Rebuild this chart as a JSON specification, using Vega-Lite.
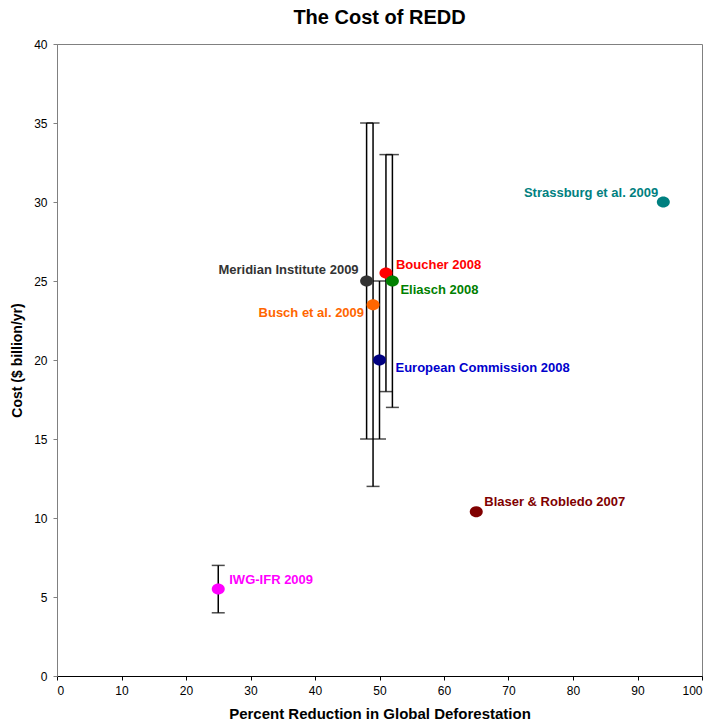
{
  "$schema": "https://vega.github.io/schema/vega-lite/v6.json",
  "autosize": "none",
  "width": 645,
  "height": 632,
  "padding": {"left": 57, "top": 44, "right": 12, "bottom": 45},
  "background": "white",
  "title": {"text": "The Cost of REDD", "font": "Liberation Sans", "fontSize": 20, "fontWeight": "bold", "color": "black", "anchor": "middle", "offset": 10},
  "config": {
    "view": {"stroke": "#808080", "strokeWidth": 1},
    "axis": {"grid": false, "labelFont": "Liberation Sans", "labelFontSize": 12, "labelColor": "black", "titleFont": "Liberation Sans", "titleFontSize": 15, "titleFontWeight": "bold", "titleColor": "black", "tickColor": "black", "tickSize": 4}
  },
  "data": {"values": [
    {"name": "Meridian Institute 2009", "x": 48, "y": 25, "lo": 15, "hi": 35},
    {"name": "Busch et al. 2009", "x": 49, "y": 23.5, "lo": 12, "hi": 35},
    {"name": "European Commission 2008", "x": 50, "y": 20, "lo": 15, "hi": 25},
    {"name": "Boucher 2008", "x": 51, "y": 25.5, "lo": 18, "hi": 33},
    {"name": "Eliasch 2008", "x": 52, "y": 25, "lo": 17, "hi": 33},
    {"name": "Strassburg et al. 2009", "x": 94, "y": 30, "lo": null, "hi": null},
    {"name": "Blaser & Robledo 2007", "x": 65, "y": 10.4, "lo": null, "hi": null},
    {"name": "IWG-IFR 2009", "x": 25, "y": 5.5, "lo": 4, "hi": 7}
  ]},
  "encoding": {
    "x": {"field": "x", "type": "quantitative", "scale": {"domain": [0, 100], "nice": false}, "axis": {"title": "Percent Reduction in Global Deforestation", "values": [0,10,20,30,40,50,60,70,80,90,100], "domainColor": "black", "labelPadding": 5, "titlePadding": 10}},
    "y": {"field": "y", "type": "quantitative", "scale": {"domain": [0, 40], "nice": false}, "axis": {"title": "Cost ($ billion/yr)", "titleFontSize": 14, "values": [0,5,10,15,20,25,30,35,40], "domainColor": "#808080", "tickColor": "#808080", "labelPadding": 6, "titlePadding": 9}}
  },
  "layer": [
    {
      "transform": [{"filter": "datum.lo != null"}],
      "mark": {"type": "rule", "color": "black", "strokeWidth": 1.5},
      "encoding": {"y": {"field": "lo", "type": "quantitative"}, "y2": {"field": "hi"}}
    },
    {
      "transform": [{"filter": "datum.lo != null"}],
      "mark": {"type": "tick", "orient": "horizontal", "color": "black", "size": 13, "thickness": 1.5},
      "encoding": {"y": {"field": "lo", "type": "quantitative"}}
    },
    {
      "transform": [{"filter": "datum.hi != null"}],
      "mark": {"type": "tick", "orient": "horizontal", "color": "black", "size": 13, "thickness": 1.5},
      "encoding": {"y": {"field": "hi", "type": "quantitative"}}
    },
    {
      "mark": {"type": "point", "filled": true, "size": 169, "opacity": 1, "shape": "M -1 0 A 1 0.85 0 1 0 1 0 A 1 0.85 0 1 0 -1 0 Z"},
      "encoding": {
        "color": {"field": "name", "type": "nominal", "legend": null, "scale": {
          "domain": ["Meridian Institute 2009", "Busch et al. 2009", "European Commission 2008", "Boucher 2008", "Eliasch 2008", "Strassburg et al. 2009", "Blaser & Robledo 2007", "IWG-IFR 2009"],
          "range": ["#333333", "#FF6600", "#000080", "#FF0000", "#008000", "#008080", "#800000", "#FF00FF"]}}
      }
    },
    {"transform": [{"filter": "datum.name == 'Meridian Institute 2009'"}], "mark": {"type": "text", "align": "right", "baseline": "middle", "dx": -8, "dy": -11, "font": "Liberation Sans", "fontWeight": "bold", "fontSize": 13, "color": "#333333"}, "encoding": {"text": {"field": "name"}}},
    {"transform": [{"filter": "datum.name == 'Busch et al. 2009'"}], "mark": {"type": "text", "align": "right", "baseline": "middle", "dx": -9, "dy": 8, "font": "Liberation Sans", "fontWeight": "bold", "fontSize": 13, "color": "#FF6600"}, "encoding": {"text": {"field": "name"}}},
    {"transform": [{"filter": "datum.name == 'European Commission 2008'"}], "mark": {"type": "text", "align": "left", "baseline": "middle", "dx": 16, "dy": 8, "font": "Liberation Sans", "fontWeight": "bold", "fontSize": 13, "color": "#0000CC"}, "encoding": {"text": {"field": "name"}}},
    {"transform": [{"filter": "datum.name == 'Boucher 2008'"}], "mark": {"type": "text", "align": "left", "baseline": "middle", "dx": 10, "dy": -8, "font": "Liberation Sans", "fontWeight": "bold", "fontSize": 13, "color": "#FF0000"}, "encoding": {"text": {"field": "name"}}},
    {"transform": [{"filter": "datum.name == 'Eliasch 2008'"}], "mark": {"type": "text", "align": "left", "baseline": "middle", "dx": 8, "dy": 9, "font": "Liberation Sans", "fontWeight": "bold", "fontSize": 13, "color": "#008000"}, "encoding": {"text": {"field": "name"}}},
    {"transform": [{"filter": "datum.name == 'Strassburg et al. 2009'"}], "mark": {"type": "text", "align": "right", "baseline": "middle", "dx": -5, "dy": -9, "font": "Liberation Sans", "fontWeight": "bold", "fontSize": 13, "color": "#008080"}, "encoding": {"text": {"field": "name"}}},
    {"transform": [{"filter": "datum.name == 'Blaser & Robledo 2007'"}], "mark": {"type": "text", "align": "left", "baseline": "middle", "dx": 8, "dy": -10, "font": "Liberation Sans", "fontWeight": "bold", "fontSize": 13, "color": "#800000"}, "encoding": {"text": {"field": "name"}}},
    {"transform": [{"filter": "datum.name == 'IWG-IFR 2009'"}], "mark": {"type": "text", "align": "left", "baseline": "middle", "dx": 11, "dy": -9, "font": "Liberation Sans", "fontWeight": "bold", "fontSize": 13, "color": "#FF00FF"}, "encoding": {"text": {"field": "name"}}}
  ]
}
